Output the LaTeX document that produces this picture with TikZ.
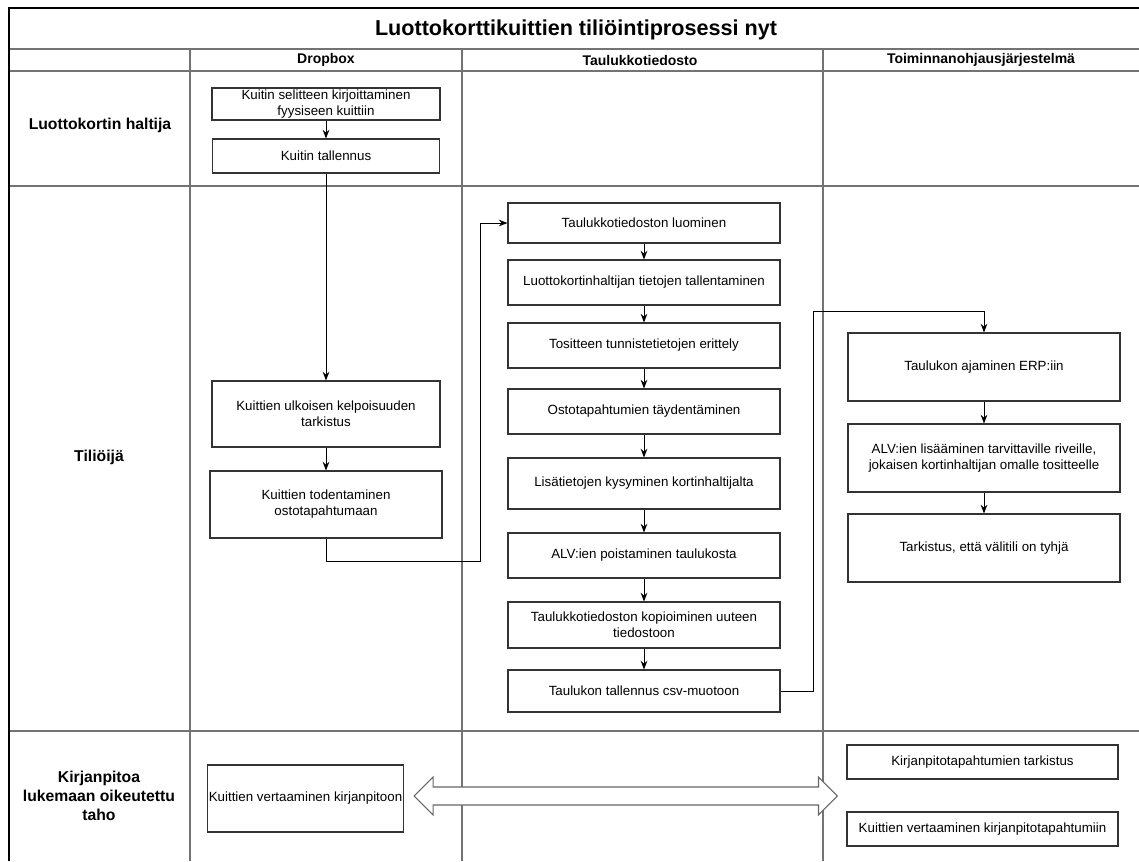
\documentclass[tikz,border=0pt]{standalone}
\usepackage{fontspec}
\setmainfont{Liberation Sans}
\usetikzlibrary{arrows.meta,calc}

\tikzset{
  stepbox/.style={draw=black!80, line width=0.8pt, fill=white, align=center, inner sep=1pt,
    font=\fontsize{10}{12}\selectfont},
  boxsize/.style 2 args={minimum width=#1*0.75pt, minimum height=#2*0.75pt},
  lanelabel/.style={align=center, font=\fontsize{11.8}{14}\selectfont\bfseries},
  colhead/.style={font=\fontsize{10.5}{12}\selectfont\bfseries},
  grid/.style={draw=black!55, line width=0.9pt},
  arr/.style={-{Stealth[length=6.5pt,width=5pt]}, line width=0.7pt},
}

\begin{document}
\begin{tikzpicture}[x=0.75pt,y=0.75pt,yscale=-1,xscale=1]
\useasboundingbox (0,0) rectangle (1139,861);
%Pool frame
\draw [grid] (9,49) -- (1139,49) ;
\draw [grid] (9,71) -- (1139,71) ;
\draw [grid] (9,186) -- (1139,186) ;
\draw [grid, line width=1.4pt] (9,731) -- (1139,731) ;
\draw [grid] (190,49) -- (190,861) ;
\draw [grid] (462,49) -- (462,861) ;
\draw [grid] (823,49) -- (823,861) ;
\draw [line width=1pt] (9,861) -- (9,8) -- (1139,8) ;
% Title
\node (title) at (576,30) {\fontsize{16.2}{19}\selectfont\bfseries Luottokorttikuittien tiliöintiprosessi nyt};
% Column heads
\node [colhead] (hdrop) at (326,60) {Dropbox};
\node [colhead] (htaul) at (640,60) {Taulukkotiedosto};
\node [colhead] (herp) at (981,60) {Toiminnanohjausjärjestelmä};
% Lane labels
\node [lanelabel] (lhaltija) at (100,125) {Luottokortin haltija};
\node [lanelabel] (ltilioija) at (99,457) {Tiliöijä};
\node [lanelabel] (lkirja) at (99,796) {Kirjanpitoa\\lukemaan oikeutettu\\taho};

%Dropbox column
\node [stepbox, boxsize={228}{32}] (b1) at (326,104) {Kuitin selitteen kirjoittaminen\\fyysiseen kuittiin};
\node [stepbox, boxsize={227}{34}] (b2) at (326,156) {Kuitin tallennus};
\node [stepbox, boxsize={228}{66}] (b3) at (326,414) {Kuittien ulkoisen kelpoisuuden\\tarkistus};
\node [stepbox, boxsize={232}{67}] (b4) at (326,504.5) {Kuittien todentaminen\\ostotapahtumaan};

%Taulukkotiedosto column
\node [stepbox, boxsize={272}{40}] (m1) at (644,223) {Taulukkotiedoston luominen};
\node [stepbox, boxsize={272}{45}] (m2) at (644,282.5) {Luottokortinhaltijan tietojen tallentaminen};
\node [stepbox, boxsize={272}{45}] (m3) at (644,345.5) {Tositteen tunnistetietojen erittely};
\node [stepbox, boxsize={272}{45}] (m4) at (644,411.5) {Ostotapahtumien täydentäminen};
\node [stepbox, boxsize={272}{51}] (m5) at (644,483.5) {Lisätietojen kysyminen kortinhaltijalta};
\node [stepbox, boxsize={272}{45}] (m6) at (644,555.5) {ALV:ien poistaminen taulukosta};
\node [stepbox, boxsize={272}{46}] (m7) at (644,625) {Taulukkotiedoston kopioiminen uuteen\\tiedostoon};
\node [stepbox, boxsize={272}{42}] (m8) at (644,691) {Taulukon tallennus csv-muotoon};

%ERP column
\node [stepbox, boxsize={272}{68}] (r1) at (984,367) {Taulukon ajaminen ERP:iin};
\node [stepbox, boxsize={272}{68}] (r2) at (984,458) {ALV:ien lisääminen tarvittaville riveille,\\jokaisen kortinhaltijan omalle tositteelle};
\node [stepbox, boxsize={272}{68}] (r3) at (984,548) {Tarkistus, että välitili on tyhjä};

%Kirjanpito lane
\node [stepbox, boxsize={195}{67}] (k1) at (305.5,798.5) {Kuittien vertaaminen kirjanpitoon};
\node [stepbox, boxsize={271}{34}] (k2) at (982.5,762) {Kirjanpitotapahtumien tarkistus};
\node [stepbox, boxsize={271}{34}] (k3) at (982.5,829) {Kuittien vertaaminen kirjanpitotapahtumiin};

%Straight Lines
\draw [arr] (b1) -- (b2) ;
\draw [arr] (b2) -- (b3) ;
\draw [arr] (b3) -- (b4) ;
\foreach \a/\b in {m1/m2,m2/m3,m3/m4,m4/m5,m5/m6,m6/m7,m7/m8,r1/r2,r2/r3}
  \draw [arr] (\a) -- (\b) ;
%Elbow connectors
\coordinate (jog1) at (480,561) ;
\draw [arr] (b4.south) |- (jog1) |- (m1.west) ;
\coordinate (jog2) at (813,311) ;
\draw [arr] (m8.east) -| (jog2) -| (r1.north) ;
%Double arrow
\coordinate (dl) at ($(k1.east)+(10,-2.5)$) ;
\coordinate (dr) at ($(k2.west |- dl)+(-9,0)$) ;
\draw [black!60, line width=0.8pt, fill=white]
  (dl) -- ++(19,-19) -- ++(0,10) -- ($(dr)+(-19,-9)$) -- ++(0,-10) -- (dr)
  -- ++(-19,19) -- ++(0,-10) -- ($(dl)+(19,9)$) -- ++(0,10) -- cycle ;
\end{tikzpicture}
\end{document}
